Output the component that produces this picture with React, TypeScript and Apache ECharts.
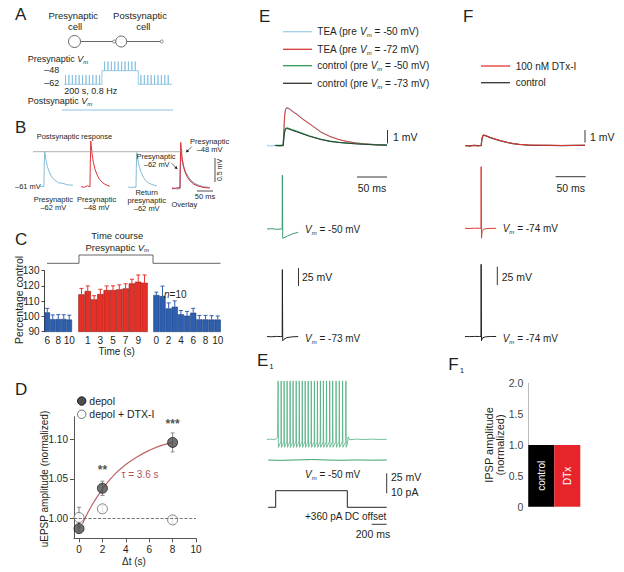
import React, { useEffect, useRef } from "react";
import * as echarts from "echarts";

const FONT = "'Liberation Sans', Arial, Helvetica, sans-serif";
const INK = "#231f20";

// ---------------- Panel A (schematic protocol) ----------------
const aSegStart = [0, 200, 392];
const aSegEnd = [200, 392, 570];
const aSegLevel = [-62, -48, -62];
const aSpikeTimes = [8, 26, 44, 62, 80, 98, 116, 134, 152, 170, 188, 214, 232, 250, 268, 286, 304, 322, 340, 358, 376, 406, 424, 442, 460, 478, 496, 514, 532, 550];
const aSpikeHeight = 9.5;
const aPostVm = [[0, -70], [570, -70]];

// ---------------- Panel B (example EPSPs, mV) ----------------
const bPre62 = [[0, 0], [6, 0.01], [12, 0], [13, 0.35], [14.5, 0.73], [16, 0.68], [19, 0.55], [23, 0.42], [28, 0.32], [35, 0.22], [45, 0.14], [58, 0.08], [72, 0.07], [85, 0.04], [103, 0.03]];
const bPre48 = [[0, 0.02], [10, 0.01], [20, 0.04], [28, 0.02], [29, 0.5], [30.5, 0.97], [32, 0.88], [35, 0.68], [39, 0.52], [44, 0.38], [50, 0.27], [58, 0.17], [68, 0.1], [78, 0.06], [90, 0.03]];
const bReturn62 = [[0, 0.02], [8, 0], [16, 0.01], [25, 0.01], [26, 0.4], [27.5, 0.73], [29, 0.66], [32, 0.54], [36, 0.42], [41, 0.32], [48, 0.22], [56, 0.14], [66, 0.09], [78, 0.06], [90, 0.04]];
const bOverlayRed = [[0, 0.02], [10, 0.01], [18, 0.03], [25, 0.02], [26, 0.5], [27.3, 0.97], [28.8, 0.86], [31, 0.68], [35, 0.5], [40, 0.37], [47, 0.26], [56, 0.17], [68, 0.1], [82, 0.06], [100, 0.03], [118, 0.02]];
const bOverlayBlue = [[0, 0.01], [10, 0.02], [18, 0.01], [25, 0.02], [26, 0.4], [27.5, 0.76], [29, 0.7], [32, 0.56], [36, 0.45], [42, 0.34], [50, 0.24], [60, 0.16], [72, 0.1], [86, 0.06], [100, 0.04], [118, 0.03]];
const bOverlayGray = [[0, 0], [10, 0.01], [18, 0], [25, 0.01], [26, 0.42], [27.5, 0.8], [29, 0.74], [32, 0.6], [36, 0.48], [42, 0.36], [50, 0.26], [60, 0.17], [72, 0.11], [86, 0.07], [100, 0.04], [118, 0.03]];

// ---------------- Panel C (time course, % control) ----------------
const cPreTimes = ["6", "7", "8", "9", "10"];
const cPreVals = [102.7, 98.2, 98.3, 98.4, 98.0];
const cPreErr = [2.6, 2.8, 2.9, 2.7, 2.8];
const cPreShown = ["6", "8", "10"];
const cDepTimes = ["0", "1", "2", "3", "4", "5", "6", "7", "8", "9", "10"];
const cDepVals = [114.5, 116.7, 111.2, 114.7, 117.3, 117.3, 117.8, 118.4, 121.7, 122.8, 122.1];
const cDepErr = [3.9, 3.3, 2.4, 3.1, 2.7, 2.8, 2.9, 3.0, 2.7, 4.4, 5.1];
const cDepShown = ["1", "3", "5", "7", "9"];
const cPostTimes = ["0", "1", "2", "3", "4", "5", "6", "7", "8", "9", "10"];
const cPostVals = [114.1, 113.4, 105.3, 106.4, 101.4, 100.5, 102.5, 98.1, 98.1, 98.0, 98.0];
const cPostErr = [1.8, 6.5, 3.6, 3.8, 2.5, 2.8, 2.8, 2.6, 2.6, 2.5, 2.3];
const cPostShown = ["0", "2", "4", "6", "8", "10"];
const cStepX = [2.5, 34.5, 34.5, 108.5, 108.5, 176];
const cStepY = [0, 0, 1, 1, 0, 0];

// ---------------- Panel D ----------------
const dTimes = [0, 2, 8];
const dDepol = [0.987, 1.038, 1.096];
const dDepolErr = [0.003, 0.009, 0.012];
const dDtx = [1.001, 1.012, 0.998];
const dDtxErr = [0.013, 0.004, 0.004];
const dStars = ["", "**", "***"];
const dFitT = [0.3, 1, 2, 3, 4, 5, 6, 7, 8];
const dFitV = [0.993, 1.014, 1.037, 1.055, 1.068, 1.078, 1.086, 1.092, 1.096];

// ---------------- Panel E (EPSPs in mV, APs) ----------------
const eTeaM50 = [[0, 0.03], [6, -0.02], [12, 0.02], [18, 0], [24, 0.02], [27, 0.03], [28, 1.0], [29.5, 2.2], [31, 2.7], [33, 2.85], [37, 2.76], [43, 2.56], [50, 2.35], [60, 1.98], [70, 1.67], [77, 1.45], [90, 1.02], [105, 0.7], [120, 0.46], [133, 0.33], [147, 0.22], [161, 0.15], [180, 0.08], [200, 0.05]];
const eTeaM72 = [[14, 0.02], [20, 0], [27, 0.02], [28, 1.1], [29.5, 2.3], [31, 2.7], [33, 2.8], [37, 2.72], [43, 2.52], [50, 2.3], [60, 1.95], [70, 1.64], [77, 1.42], [90, 1.0], [105, 0.68], [120, 0.45], [133, 0.32], [147, 0.21], [161, 0.14], [180, 0.07], [200, 0.03]];
const eCtlM50 = [[14, 0.01], [20, 0.02], [27, 0.02], [28, 0.6], [29.5, 1.1], [31, 1.27], [33, 1.32], [37, 1.26], [43, 1.16], [50, 1.06], [60, 0.89], [70, 0.73], [77, 0.64], [90, 0.47], [105, 0.33], [120, 0.25], [133, 0.2], [147, 0.15], [161, 0.12], [180, 0.08], [200, 0.05]];
const eCtlM73 = [[14, 0.02], [20, 0], [27, 0.01], [28, 0.55], [29.5, 1.05], [31, 1.22], [33, 1.27], [37, 1.22], [43, 1.12], [50, 1.02], [60, 0.86], [70, 0.71], [77, 0.62], [90, 0.46], [105, 0.32], [120, 0.24], [133, 0.19], [147, 0.14], [161, 0.1], [180, 0.06], [200, 0.04]];
const eApM50 = [[0, -50], [8, -49.6], [16, -50.4], [22, -50], [25.3, -50], [25.6, 26], [26.2, -63], [28, -62.4], [34, -60], [42, -57], [52, -54.5]];
const eApM73 = [[0, -73], [8, -73.3], [16, -72.8], [22, -73], [25.3, -73], [25.6, 21.5], [26.2, -79], [28, -77], [33, -74.5], [42, -73.4], [52, -73]];

// ---------------- Panel F ----------------
const fDtx = [[0, 0.02], [8, -0.04], [15, 0.03], [22, -0.02], [27, 0.02], [28, 0.45], [29.5, 0.72], [31, 0.8], [35, 0.74], [42, 0.62], [50, 0.5], [60, 0.36], [70, 0.25], [80, 0.16], [90, 0.1], [105, 0.06], [120, 0.04], [140, 0.03], [160, 0.02], [180, 0.02], [200, 0.04]];
const fCtl = [[0, 0], [8, -0.02], [15, 0.02], [22, 0], [27, 0.01], [28, 0.42], [29.5, 0.7], [31, 0.78], [35, 0.73], [42, 0.6], [50, 0.48], [60, 0.35], [70, 0.24], [80, 0.15], [90, 0.1], [105, 0.05], [120, 0.03], [140, 0.02], [160, 0.01], [180, 0.02], [200, 0.02]];
const fApDtx = [[0, -74], [8, -74.3], [16, -73.8], [24, -74], [26.6, -74], [26.9, 13], [27.5, -88], [28.5, -78], [32, -75], [40, -74.2], [52, -74]];
const fApCtl = [[0, -74], [8, -74.2], [16, -73.9], [24, -74], [26.6, -74], [26.9, 28], [27.5, -80], [29, -76], [34, -74.5], [42, -74], [52, -74]];

// ---------------- Panel E1 (spike train) ----------------
const e1SpikeTimes = [152, 193, 232, 272, 312, 352, 393, 434, 474, 513, 553, 594, 636, 676, 716, 756, 797, 840, 880, 925, 968, 1012, 1056];
const e1PeakMv = 23;
const e1TroughMv = -60;
const e1PreSpikeMv = -53;
const e1Before = [[0, -50.4], [40, -49.7], [80, -50.2], [120, -50], [145, -47]];
const e1After = [[1075, -56], [1088, -47], [1105, -50.5], [1200, -49.8], [1300, -50.3], [1400, -49.8], [1500, -50.2], [1600, -50]];
const e1Lower = [[20, -76], [200, -76.3], [400, -75.8], [600, -75.3], [800, -75.9], [1000, -76.2], [1200, -75.8], [1400, -76.1], [1600, -75.9]];
const e1Current = [[20, 0], [120, 0], [120, 8.3], [1075, 8.3], [1075, 0], [1600, 0]];

// ---------------- Panel F1 ----------------
const f1Cats = ["control", "DTx"];
const f1Vals = [1.0, 1.0];

// ================= helpers =================
function rich(fs: number, color: string) {
  return {
    i: { fontStyle: "italic", fontSize: fs, fontFamily: FONT, fill: color, lineHeight: Math.round(fs * 1.3) },
    s: { fontStyle: "italic", fontSize: Math.max(5, Math.round(fs * 0.62)), fontFamily: FONT, fill: color, verticalAlign: "bottom", lineHeight: Math.round(fs * 0.7) },
    sub: { fontSize: 8, fontFamily: FONT, fill: color, verticalAlign: "bottom", lineHeight: 8, padding: [0, 0, 0, 1] },
  };
}
function txt(x: number, y: number, text: string, o: any = {}) {
  const fs = o.fs ?? 9.5;
  const color = o.color ?? INK;
  return {
    type: "text", x, y, rotation: o.rot ?? 0, silent: true, z: 10,
    style: {
      text, fill: color, fontSize: fs, fontFamily: FONT, fontWeight: o.weight ?? "normal",
      align: o.align ?? "left", verticalAlign: "middle", lineHeight: o.lh ?? Math.round(fs * 1.3),
      rich: rich(fs, color),
    },
  };
}
function ln(x1: number, y1: number, x2: number, y2: number, color = INK, w = 1, dash?: number[]) {
  return { type: "line", silent: true, z: 10, shape: { x1, y1, x2, y2 }, style: { stroke: color, lineWidth: w, lineDash: dash } };
}
function letter(x: number, y: number, t: string) {
  return txt(x, y, t, { fs: 17, lh: 20 });
}

function buildOption() {
  const grids: any[] = [];
  const xAxes: any[] = [];
  const yAxes: any[] = [];
  const series: any[] = [];

  const hiddenGrid = (left: number, top: number, width: number, height: number, xMin: number, xMax: number, yMin: number, yMax: number) => {
    const idx = grids.length;
    grids.push({ left, top, width, height, containLabel: false, outerBoundsMode: "none" });
    xAxes.push({ type: "value", gridIndex: idx, min: xMin, max: xMax, show: false });
    yAxes.push({ type: "value", gridIndex: idx, min: yMin, max: yMax, show: false });
    return idx;
  };
  const trace = (gi: number, name: string, data: any[], color: string, width = 1, z = 2) => {
    series.push({
      type: "line", name, xAxisIndex: gi, yAxisIndex: gi, data, showSymbol: false, symbol: "none",
      lineStyle: { color, width }, itemStyle: { color }, z, clip: false, silent: true,
    });
  };

  // ---- A ----
  const aPts: number[][] = [];
  for (let s = 0; s < aSegStart.length; s++) {
    const lvl = aSegLevel[s];
    aPts.push([aSegStart[s], lvl]);
    aSpikeTimes.filter((t) => t > aSegStart[s] && t < aSegEnd[s]).forEach((t) => {
      aPts.push([t, lvl], [t, lvl + aSpikeHeight], [t, lvl]);
    });
    aPts.push([aSegEnd[s], lvl]);
  }
  const gA = hiddenGrid(64, 58, 108, 32, 0, 570, -67.9, -34.9);
  trace(gA, "Presynaptic Vm", aPts, "#7fbde0", 0.8);
  const gA2 = hiddenGrid(62, 105, 111, 10, 0, 570, -75, -65);
  trace(gA2, "Postsynaptic Vm", aPostVm, "#7fbde0", 0.9);

  // ---- B ----
  const gB1 = hiddenGrid(40, 133.9, 33, 57.6, 0, 103, -0.1, 1.1);
  trace(gB1, "pre -62", bPre62, "#86bcd8", 1);
  const gB2 = hiddenGrid(81, 134.9, 29, 57.6, 0, 90.6, -0.1, 1.1);
  trace(gB2, "pre -48", bPre48, "#e0303a", 1);
  const gB3 = hiddenGrid(128, 134.9, 29, 57.6, 0, 90.6, -0.1, 1.1);
  trace(gB3, "return -62", bReturn62, "#86bcd8", 1);
  const gB4 = hiddenGrid(172, 136.2, 38, 57.6, 0, 118.75, -0.1, 1.1);
  trace(gB4, "overlay gray", bOverlayGray, "#6f8a86", 1);
  trace(gB4, "overlay blue", bOverlayBlue, "#86bcd8", 1);
  trace(gB4, "overlay red", bOverlayRed, "#e0303a", 1);

  // ---- C ----
  const gCs = hiddenGrid(44.5, 250.85, 177.5, 16.6, 0, 177.5, -0.5, 1.5);
  trace(gCs, "Presynaptic Vm step", cStepX.map((x, i) => [x, cStepY[i]]), "#555", 0.9);

  const errRender = (color: string, capW: number, both: boolean) => (params: any, api: any) => {
    const x = api.value(0), y = api.value(1), e = api.value(2);
    const top = api.coord([x, y + e]);
    const base = api.coord([x, both ? y - e : y]);
    const st = { stroke: color, lineWidth: 1 };
    const ch: any[] = [
      { type: "line", shape: { x1: top[0], y1: top[1], x2: base[0], y2: base[1] }, style: st },
      { type: "line", shape: { x1: top[0] - capW / 2, y1: top[1], x2: top[0] + capW / 2, y2: top[1] }, style: st },
    ];
    if (both) ch.push({ type: "line", shape: { x1: base[0] - capW / 2, y1: base[1], x2: base[0] + capW / 2, y2: base[1] }, style: st });
    return { type: "group", children: ch };
  };

  const barGrid = (left: number, width: number, cats: string[], vals: number[], errs: number[], shown: string[], color: string, border: string, showY: boolean, name: string) => {
    const idx = grids.length;
    grids.push({ left, top: 270.7, width, height: 61, containLabel: false, outerBoundsMode: "none" });
    xAxes.push({
      type: "category", gridIndex: idx, data: cats,
      axisLine: { show: false }, axisTick: { show: false },
      axisLabel: { interval: (i: number) => shown.indexOf(cats[i]) >= 0, fontSize: 10, color: INK, fontFamily: FONT, margin: 4 },
    });
    yAxes.push({
      type: "value", gridIndex: idx, min: 90, max: 130, interval: 10, show: showY,
      axisLine: { show: true, onZero: false, lineStyle: { color: "#444", width: 1 } },
      axisTick: { show: true, length: 3, lineStyle: { color: "#444" } },
      axisLabel: { fontSize: 10, color: INK, fontFamily: FONT, margin: 5 },
      splitLine: { show: false },
    });
    series.push({
      type: "bar", name, xAxisIndex: idx, yAxisIndex: idx, data: vals, barCategoryGap: "0%",
      itemStyle: { color, borderColor: border, borderWidth: 0.6 }, silent: true, z: 2,
    });
    series.push({
      type: "custom", name: name + " SEM", xAxisIndex: idx, yAxisIndex: idx, z: 3, silent: true,
      encode: { x: 0, y: 1 },
      renderItem: errRender(color, 4, false),
      data: vals.map((v, i) => [i, v, errs[i]]),
    });
  };
  barGrid(44.5, 27.5, cPreTimes, cPreVals, cPreErr, cPreShown, "#2e5fae", "#1d3f7a", true, "pre");
  barGrid(78.3, 69.4, cDepTimes, cDepVals, cDepErr, cDepShown, "#e63027", "#8a1a14", false, "depol");
  barGrid(153.3, 67.5, cPostTimes, cPostVals, cPostErr, cPostShown, "#2e5fae", "#1d3f7a", false, "post");

  // ---- D ----
  const gD = grids.length;
  grids.push({ left: 74, top: 416.7, width: 122, height: 121.6, containLabel: false, outerBoundsMode: "none" });
  xAxes.push({
    type: "value", gridIndex: gD, min: -0.43, max: 10,
    axisLine: { show: true, onZero: false, lineStyle: { color: "#555", width: 1 } },
    axisTick: { show: true, length: 4, customValues: [0, 2, 4, 6, 8, 10], lineStyle: { color: "#555" } },
    axisLabel: { customValues: [0, 2, 4, 6, 8, 10], fontSize: 10, color: INK, fontFamily: FONT, margin: 6 },
    splitLine: { show: false },
  });
  yAxes.push({
    type: "value", gridIndex: gD, min: 0.9747, max: 1.1286,
    axisLine: { show: true, onZero: false, lineStyle: { color: "#555", width: 1 } },
    axisTick: { show: true, length: 4, customValues: [1.0, 1.05, 1.1], lineStyle: { color: "#555" } },
    axisLabel: { customValues: [1.0, 1.05, 1.1], formatter: (v: number) => v.toFixed(2), fontSize: 10, color: INK, fontFamily: FONT, margin: 6 },
    splitLine: { show: false },
  });
  series.push({
    type: "line", name: "fit", xAxisIndex: gD, yAxisIndex: gD, data: dFitT.map((t, i) => [t, dFitV[i]]),
    smooth: true, showSymbol: false, symbol: "none", lineStyle: { color: "#c0646a", width: 1.2 }, z: 1, silent: true,
    markLine: { silent: true, symbol: "none", label: { show: false }, lineStyle: { type: "dashed", color: "#555", width: 0.8 }, data: [{ yAxis: 1 }] },
  });
  series.push({
    type: "custom", name: "depol SEM", xAxisIndex: gD, yAxisIndex: gD, z: 2, silent: true, encode: { x: 0, y: 1 },
    renderItem: errRender("#888", 4, true), data: dTimes.map((t, i) => [t, dDepol[i], dDepolErr[i]]),
  });
  series.push({
    type: "custom", name: "dtx SEM", xAxisIndex: gD, yAxisIndex: gD, z: 2, silent: true, encode: { x: 0, y: 1 },
    renderItem: errRender("#888", 4, true), data: dTimes.map((t, i) => [t, dDtx[i], dDtxErr[i]]),
  });
  series.push({
    type: "scatter", name: "depol", xAxisIndex: gD, yAxisIndex: gD, z: 4, silent: true,
    data: dTimes.map((t, i) => [t, dDepol[i]]), symbol: "circle", symbolSize: 10,
    itemStyle: { color: "#4d4d4f", borderColor: "#1e1e1e", borderWidth: 1 },
    label: { show: true, position: "top", distance: 7, formatter: (p: any) => dStars[p.dataIndex], fontSize: 12, fontWeight: "bold", color: INK, fontFamily: FONT },
  });
  series.push({
    type: "scatter", name: "depol + DTX-I", xAxisIndex: gD, yAxisIndex: gD, z: 4, silent: true,
    data: dTimes.map((t, i) => [t, dDtx[i]]), symbol: "circle", symbolSize: 10,
    itemStyle: { color: "#ffffff", borderColor: "#666", borderWidth: 1 },
  });

  // ---- E ----
  const gE = hiddenGrid(267, 105.2, 120, 44.55, 0, 200, -0.3, 3.0);
  trace(gE, "TEA (pre Vm = -50 mV)", eTeaM50, "#9fd0ea", 1.2);
  trace(gE, "TEA (pre Vm = -72 mV)", eTeaM72, "#d83a34", 1);
  trace(gE, "control (pre Vm = -50 mV)", eCtlM50, "#2d9a58", 1.4);
  trace(gE, "control (pre Vm = -73 mV)", eCtlM73, "#333", 0.9);
  const gEa = hiddenGrid(267, 172.4, 33, 70.8, 0, 55, -70, 30);
  trace(gEa, "AP -50", eApM50, "#3c9a6e", 1);
  const gEb = hiddenGrid(267, 263.6, 33, 85, 0, 55, -90, 30);
  trace(gEb, "AP -73", eApM73, "#222", 1);

  // ---- F ----
  const gF = hiddenGrid(465, 105.2, 120, 44.55, 0, 200, -0.3, 3.0);
  trace(gF, "control", fCtl, "#333", 1.3);
  trace(gF, "100 nM DTx-I", fDtx, "#e03a30", 1);
  const gFa = hiddenGrid(465, 154.7, 33, 92, 0, 55, -100, 30);
  trace(gFa, "AP DTx", fApDtx, "#e03a30", 1);
  const gFb = hiddenGrid(465, 255.8, 33, 99.1, 0, 55, -100, 40);
  trace(gFb, "AP control", fApCtl, "#222", 1);

  // ---- E1 ----
  const e1Pts: number[][] = e1Before.slice();
  e1SpikeTimes.forEach((t, i) => {
    if (i > 0) e1Pts.push([t - 3, e1PreSpikeMv]);
    e1Pts.push([t, e1PeakMv], [t + 4, e1TroughMv]);
  });
  e1After.forEach((p) => e1Pts.push(p));
  const gE1 = hiddenGrid(266.7, 375.3, 120, 88, 0, 1600, -80, 30);
  trace(gE1, "spike train", e1Pts, "#4fae80", 0.8);
  trace(gE1, "lower trace", e1Lower, "#3f9e6e", 1);
  const gE1i = hiddenGrid(266.7, 487.3, 120, 24, 0, 1600, -2, 10);
  trace(gE1i, "current", e1Current, "#222", 1);

  // ---- F1 ----
  const gF1 = grids.length;
  grids.push({ left: 528.3, top: 383.3, width: 52, height: 123.4, containLabel: false, outerBoundsMode: "none" });
  xAxes.push({ type: "category", gridIndex: gF1, data: f1Cats, axisLine: { show: false }, axisTick: { show: false }, axisLabel: { show: false } });
  yAxes.push({
    type: "value", gridIndex: gF1, min: 0, max: 2, interval: 0.5,
    axisLine: { show: true, onZero: false, lineStyle: { color: "#bbb", width: 1 } },
    axisTick: { show: false },
    axisLabel: { formatter: (v: number) => (v === 0 ? "0" : v.toFixed(1)), fontSize: 10.5, color: "#444", fontFamily: FONT, margin: 5 },
    splitLine: { show: false },
  });
  series.push({
    type: "bar", name: "IPSP amplitude", xAxisIndex: gF1, yAxisIndex: gF1, barCategoryGap: "0%", silent: true,
    data: f1Vals.map((v, i) => ({ value: v, itemStyle: { color: i === 0 ? "#000000" : "#e8242b" } })),
    label: { show: true, position: "inside", rotate: 90, color: "#fff", fontSize: 10, fontFamily: FONT, formatter: (p: any) => f1Cats[p.dataIndex] },
  });

  // ================= graphic =================
  const g: any[] = [
    // letters
    letter(15, 14.5, "A"), letter(15, 127.5, "B"), letter(15, 239, "C"), letter(15, 389, "D"),
    letter(259, 16, "E"), letter(463, 16.5, "F"),
    letter(257, 360, "E{sub|1}"), letter(448.3, 364, "F{sub|1}"),
    // A
    txt(73.3, 15, "Presynaptic", { align: "center" }), txt(75, 26.7, "cell", { align: "center" }),
    txt(140, 15, "Postsynaptic", { align: "center" }), txt(143.3, 26.7, "cell", { align: "center" }),
    { type: "circle", shape: { cx: 74.5, cy: 41.5, r: 6 }, style: { fill: "#fff", stroke: "#666", lineWidth: 1 }, silent: true },
    ln(80.5, 41.5, 112.5, 41.5, "#666", 1),
    { type: "circle", shape: { cx: 114, cy: 41.5, r: 1.5 }, style: { fill: "#fff", stroke: "#666", lineWidth: 0.8 }, silent: true },
    { type: "circle", shape: { cx: 121.2, cy: 41.5, r: 5.5 }, style: { fill: "#fff", stroke: "#666", lineWidth: 1 }, silent: true },
    ln(126.7, 41.5, 160.2, 41.5, "#666", 1),
    { type: "circle", shape: { cx: 161.7, cy: 41.5, r: 1.5 }, style: { fill: "#fff", stroke: "#666", lineWidth: 0.8 }, silent: true },
    txt(27.7, 58.5, "Presynaptic {i|V}{s|m}", { fs: 9, lh: 11 }),
    txt(59.3, 69.5, "–48", { align: "right", fs: 9, lh: 10 }), txt(59.3, 83.3, "–62", { align: "right", fs: 9, lh: 10 }),
    txt(64.3, 90.8, "200 s, 0.8 Hz", { fs: 9, lh: 10 }),
    txt(27.7, 101, "Postsynaptic {i|V}{s|m}", { fs: 9, lh: 11 }),
    // B
    txt(36.7, 136.7, "Postsynaptic response", { fs: 7.5 }),
    ln(33, 151.7, 183, 151.7, "#9a9a9a", 0.8),
    txt(15, 186.7, "–61 mV", { fs: 7.5 }),
    txt(53.3, 199, "Presynaptic", { fs: 7.5, align: "center" }), txt(53.3, 207.3, "–62 mV", { fs: 7.5, align: "center" }),
    txt(96.7, 199, "Presynaptic", { fs: 7.5, align: "center" }), txt(96.7, 207.3, "–48 mV", { fs: 7.5, align: "center" }),
    txt(146.7, 192.3, "Return", { fs: 7.5, align: "center" }), txt(146.7, 200, "presynaptic", { fs: 7.5, align: "center" }),
    txt(146.7, 208.3, "–62 mV", { fs: 7.5, align: "center" }),
    txt(184.3, 204.3, "Overlay", { fs: 7.5, align: "center" }),
    txt(156, 156, "Presynaptic", { fs: 7.5, align: "center" }), txt(156.7, 164.3, "–62 mV", { fs: 7.5, align: "center" }),
    ln(171.7, 163.3, 176.7, 168.3, INK, 0.7),
    { type: "polygon", shape: { points: [[177.5, 169.2], [174.2, 168.3], [176.6, 165.9]] }, style: { fill: INK }, silent: true },
    txt(190, 141, "Presynaptic", { fs: 7.5 }), txt(196.7, 149.3, "–48 mV", { fs: 7.5 }),
    ln(191.7, 146.7, 186.7, 151.7, INK, 0.7),
    { type: "polygon", shape: { points: [[185.9, 152.5], [186.8, 149.2], [189.2, 151.6]] }, style: { fill: INK }, silent: true },
    ln(215, 158, 215, 182, INK, 0.8),
    txt(219.5, 170, "0.5 mV", { fs: 7, align: "center", rot: Math.PI / 2 }),
    ln(197, 191, 213, 191, INK, 0.8),
    txt(205, 196, "50 ms", { fs: 7.5, align: "center" }),
    // C
    txt(117.3, 235.7, "Time course", { align: "center" }),
    txt(117.3, 247.3, "Presynaptic {i|V}{s|m}", { align: "center" }),
    txt(164, 294, "{i|n}=10", { fs: 10 }),
    txt(18.5, 300, "Percentage control", { fs: 10.5, align: "center", rot: Math.PI / 2 }),
    txt(116.7, 351, "Time (s)", { fs: 10, align: "center" }),
    // D
    { type: "circle", shape: { cx: 81.7, cy: 401, r: 4.2 }, style: { fill: "#4d4d4f", stroke: "#1e1e1e", lineWidth: 1 }, silent: true },
    { type: "circle", shape: { cx: 81.7, cy: 414.3, r: 4.2 }, style: { fill: "#fff", stroke: "#666", lineWidth: 1 }, silent: true },
    txt(89.3, 401, "depol", { fs: 10.5 }), txt(89.3, 414.3, "depol + DTX-I", { fs: 10.5 }),
    txt(44, 479, "uEPSP amplitude (normalized)", { fs: 10, align: "center", rot: Math.PI / 2 }),
    txt(134, 561.7, "Δt (s)", { fs: 10, align: "center" }),
    txt(140, 474.3, "τ = 3.6 s", { fs: 10, align: "center", color: "#b5535a" }),
    // E legend
    ln(283, 31.7, 312, 31.7, "#9fd0ea", 1.3), txt(317.3, 31.7, "TEA (pre {i|V}{s|m} = -50 mV)", { fs: 10 }),
    ln(283, 49.3, 312, 49.3, "#d83a34", 1.3), txt(317.3, 49.3, "TEA (pre {i|V}{s|m} = -72 mV)", { fs: 10 }),
    ln(283, 65.7, 312, 65.7, "#2d9a58", 1.3), txt(317.3, 65.7, "control (pre {i|V}{s|m} = -50 mV)", { fs: 10 }),
    ln(283, 83.3, 312, 83.3, "#333", 1.3), txt(317.3, 83.3, "control (pre {i|V}{s|m} = -73 mV)", { fs: 10 }),
    ln(387.5, 130, 387.5, 143.5, INK, 0.9), txt(393, 137, "1 mV", { fs: 10.5 }),
    ln(357, 177, 387, 177, INK, 0.9), txt(372, 187.5, "50 ms", { fs: 10.5, align: "center" }),
    txt(305, 229, "{i|V}{s|m} = -50 mV", { fs: 10 }),
    ln(298.5, 268, 298.5, 286, INK, 0.9), txt(302, 277, "25 mV", { fs: 10.5 }),
    txt(305, 338, "{i|V}{s|m} = -73 mV", { fs: 10 }),
    // F
    ln(481, 66, 510, 66, "#e03a30", 1.3), txt(515.7, 66, "100 nM DTx-I", { fs: 10 }),
    ln(481, 82.7, 510, 82.7, "#333", 1.3), txt(515.7, 82.7, "control", { fs: 10 }),
    ln(585, 130, 585, 142.5, INK, 0.9), txt(590, 137, "1 mV", { fs: 10.5 }),
    ln(555.7, 176.7, 585.7, 176.7, INK, 0.9), txt(570.7, 187.5, "50 ms", { fs: 10.5, align: "center" }),
    txt(502.7, 228.3, "{i|V}{s|m} = -74 mV", { fs: 10 }),
    ln(497.3, 266.7, 497.3, 285, INK, 0.9), txt(501.7, 276.7, "25 mV", { fs: 10.5 }),
    txt(502.7, 338, "{i|V}{s|m} = -74 mV", { fs: 10 }),
    // E1
    txt(305, 474, "{i|V}{s|m} = -50 mV", { fs: 10 }),
    ln(386.7, 473.3, 386.7, 493.3, INK, 0.9), txt(391, 477, "25 mV", { fs: 10.5 }), txt(391, 491.7, "10 pA", { fs: 10.5 }),
    txt(305, 516.7, "+360 pA DC offset", { fs: 10 }),
    ln(371.7, 524.3, 386.7, 524.3, INK, 0.9), txt(373, 534, "200 ms", { fs: 10.5, align: "center" }),
    // F1
    txt(494, 445, "IPSP amplitude\n(normalized)", { fs: 11, align: "center", rot: Math.PI / 2, lh: 11 }),
  ];

  return {
    animation: false,
    backgroundColor: "#ffffff",
    textStyle: { fontFamily: FONT },
    grid: grids,
    xAxis: xAxes,
    yAxis: yAxes,
    series,
    graphic: { elements: g },
  };
}

export default function App() {
  const ref = useRef<HTMLDivElement>(null);
  useEffect(() => {
    const chart = echarts.init(ref.current as HTMLDivElement, null, { renderer: "svg" });
    chart.setOption(buildOption() as any);
    return () => chart.dispose();
  }, []);
  return <div ref={ref} style={{ position: "fixed", left: 0, top: 0, width: 624, height: 572, background: "#fff" }} />;
}
